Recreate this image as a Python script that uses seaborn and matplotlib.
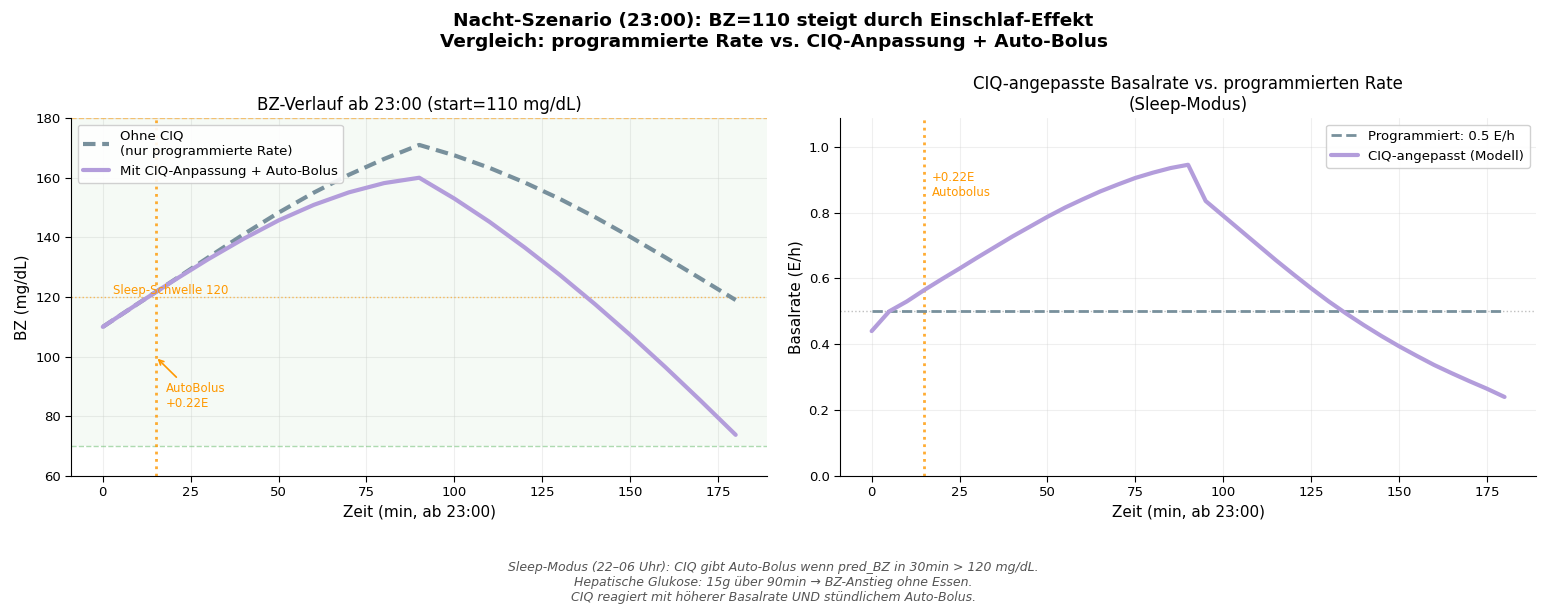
import numpy as np
import pandas as pd
import seaborn as sns
import matplotlib.pyplot as plt

# --------------------------------------------
# Data
# --------------------------------------------
zeit_bz = [0, 10, 20, 30, 40, 50, 60, 70, 80, 90,
           100, 110, 120, 130, 140, 150, 160, 170, 180]
bz_ohne = [110, 117.8, 125.5, 133.3, 141, 148.3, 155, 161, 166.3, 171,
           167.5, 163.3, 158.4, 152.9, 146.8, 140.2, 133.3, 126.2, 119]
bz_mit = [110, 117.8, 125.4, 132.7, 139.5, 145.7, 150.9, 155.1, 158.2, 160,
          153, 145.2, 136.6, 127.4, 117.6, 107.3, 96.5, 85.3, 73.8]

zeit_rate = list(range(0, 185, 5))
rate_ciq = [0.44, 0.50, 0.53, 0.565, 0.598, 0.63, 0.663, 0.695, 0.727, 0.757,
            0.787, 0.815, 0.84, 0.864, 0.885, 0.905, 0.921, 0.935, 0.945,
            0.835, 0.79, 0.745, 0.70, 0.655, 0.612, 0.57, 0.53, 0.493,
            0.458, 0.425, 0.394, 0.365, 0.337, 0.312, 0.288, 0.265, 0.24]
rate_prog = 0.5

df_bz = pd.DataFrame({"t": zeit_bz, "ohne": bz_ohne, "mit": bz_mit})
df_rate = pd.DataFrame({"t": zeit_rate, "ciq": rate_ciq})
df_rate["prog"] = rate_prog

grau = "#78909c"
lila = "#b39ddb"
orange = "#ff9800"

sns.set_style("white")
plt.rcParams['font.family'] = ['DejaVu Sans']
plt.rcParams.update({"text.color": "black", "axes.labelcolor": "black",
                     "xtick.color": "black", "ytick.color": "black"})

fig = plt.figure(figsize=(15.47, 6.15), dpi=100)
ax1 = fig.add_axes([0.046, 0.226, 0.450, 0.582])
ax2 = fig.add_axes([0.543, 0.226, 0.450, 0.582])

# --------------------------------------------
# 1. BZ-Verlauf
# --------------------------------------------
ax1.axhspan(70, 180, color="green", alpha=0.04, lw=0)
ax1.axhline(180, color=orange, ls="--", lw=1, alpha=0.5)
ax1.axhline(70, color="#4caf50", ls="--", lw=1, alpha=0.45)
ax1.axhline(120, color=orange, ls=":", lw=1, alpha=0.6)
ax1.axvline(15, color=orange, ls=":", lw=2, alpha=0.8)

sns.lineplot(data=df_bz, x="t", y="ohne", ax=ax1, color=grau, lw=3,
             label="Ohne CIQ\n(nur programmierte Rate)")
ax1.lines[-1].set_linestyle((0, (3, 1.6)))
sns.lineplot(data=df_bz, x="t", y="mit", ax=ax1, color=lila, lw=3,
             label="Mit CIQ-Anpassung + Auto-Bolus")

ax1.text(3, 121, "Sleep-Schwelle 120", color=orange, fontsize=8.5)
ax1.annotate("AutoBolus\n+0.22E", xy=(15, 100), xytext=(18, 83),
             color=orange, fontsize=8.5,
             arrowprops=dict(arrowstyle="->", color=orange, lw=1.2))

ax1.set_xlim(-9, 189)
ax1.set_ylim(60, 180)
ax1.set_title("BZ-Verlauf ab 23:00 (start=110 mg/dL)", fontsize=12)
ax1.set_xlabel("Zeit (min, ab 23:00)", fontsize=11)
ax1.set_ylabel("BZ (mg/dL)", fontsize=11)
ax1.grid(True, alpha=0.3)
ax1.legend(loc="upper left", fontsize=9.5, framealpha=0.9)

# --------------------------------------------
# 2. Basalrate
# --------------------------------------------
ax2.axhline(rate_prog, color="gray", ls=":", lw=1, alpha=0.5)
ax2.axvline(15, color=orange, ls=":", lw=2, alpha=0.8)
sns.lineplot(data=df_rate, x="t", y="prog", ax=ax2, color=grau, lw=2,
             ls="--", label="Programmiert: 0.5 E/h")
sns.lineplot(data=df_rate, x="t", y="ciq", ax=ax2, color=lila, lw=3,
             label="CIQ-angepasst (Modell)")
ax2.text(17, 0.85, "+0.22E\nAutobolus", color=orange, fontsize=8.5)

ax2.set_xlim(-9, 189)
ax2.set_ylim(0, max(rate_ciq) * 1.15)
ax2.set_title("CIQ-angepasste Basalrate vs. programmierten Rate\n(Sleep-Modus)",
              fontsize=12)
ax2.set_xlabel("Zeit (min, ab 23:00)", fontsize=11)
ax2.set_ylabel("Basalrate (E/h)", fontsize=11)
ax2.grid(True, alpha=0.3)
ax2.legend(loc="upper right", fontsize=9.5, framealpha=0.9)

for ax in (ax1, ax2):
    ax.tick_params(labelsize=9.5, length=4, bottom=True, left=True)
    for s in ("left", "bottom"):
        ax.spines[s].set_color("black")
sns.despine(fig=fig)

fig.suptitle("Nacht-Szenario (23:00): BZ=110 steigt durch Einschlaf-Effekt\n"
             "Vergleich: programmierte Rate vs. CIQ-Anpassung + Auto-Bolus",
             fontsize=13.3, fontweight="bold", y=0.98)

fig.text(0.5, 0.018,
         "Sleep-Modus (22–06 Uhr): CIQ gibt Auto-Bolus wenn pred_BZ in 30min > 120 mg/dL.\n"
         "Hepatische Glukose: 15g über 90min → BZ-Anstieg ohne Essen.\n"
         "CIQ reagiert mit höherer Basalrate UND stündlichem Auto-Bolus.",
         ha="center", va="bottom", fontsize=9, style="italic", color="#555555")

fig.savefig("out.png", dpi=100)
print("Completed Successfully!")
